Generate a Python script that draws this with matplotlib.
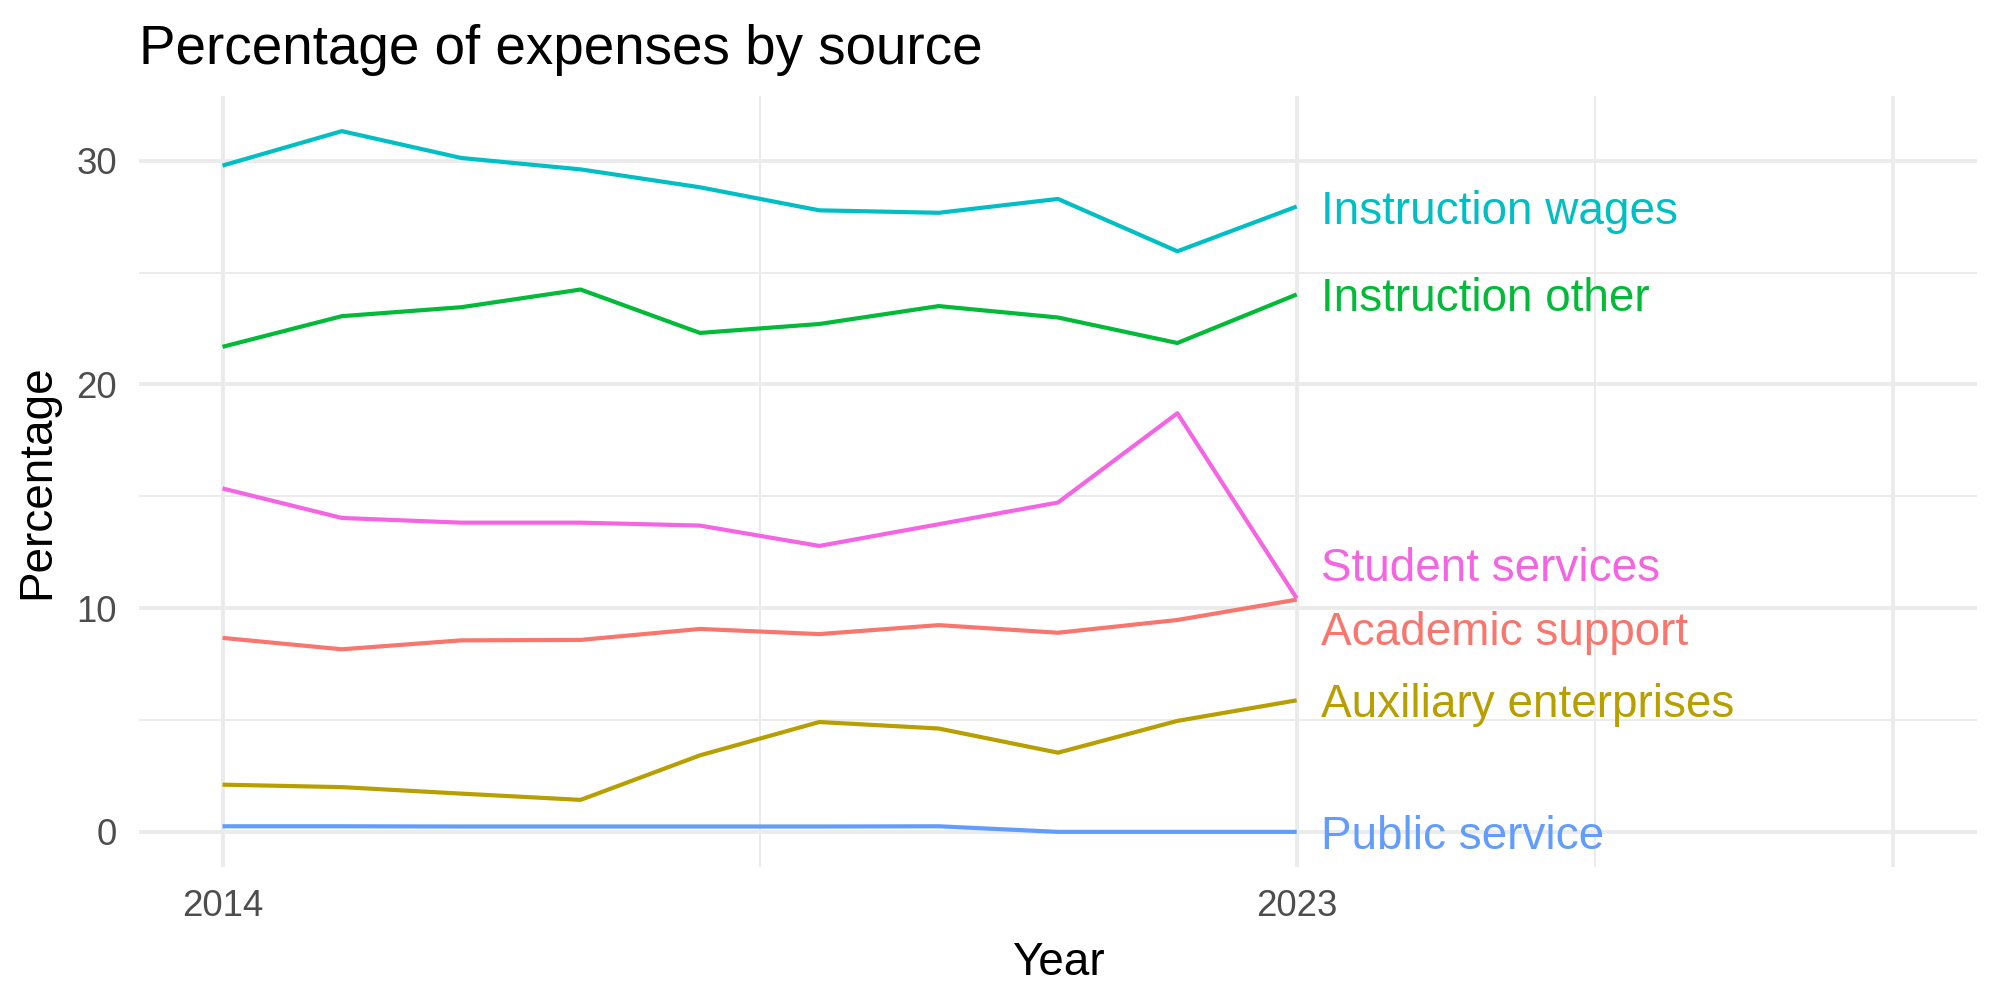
import numpy as np
import matplotlib
matplotlib.use('Agg')
import matplotlib.pyplot as plt

plt.rcParams['font.family'] = ['Liberation Sans', 'DejaVu Sans']

years = [2014, 2015, 2016, 2017, 2018, 2019, 2020, 2021, 2022, 2023]

sources = [
    'Academic support',
    'Auxiliary enterprises',
    'Instruction other',
    'Instruction wages',
    'Public service',
    'Student services',
]

academic_support = [8.67, 8.16, 8.56, 8.58, 9.07, 8.84, 9.24, 8.90, 9.47, 10.38]
auxiliary_enterprises = [2.11, 2.00, 1.71, 1.43, 3.42, 4.91, 4.62, 3.54, 4.96, 5.88]
instruction_other = [21.68, 23.05, 23.45, 24.24, 22.30, 22.70, 23.50, 22.99, 21.85, 24.02]
instruction_wages = [29.78, 31.32, 30.12, 29.61, 28.81, 27.78, 27.67, 28.29, 25.95, 27.95]
public_service = [0.25, 0.25, 0.24, 0.24, 0.24, 0.24, 0.25, 0.0, 0.0, 0.0]
student_services = [15.35, 14.03, 13.82, 13.82, 13.69, 12.78, 13.75, 14.72, 18.71, 10.44]

series = [academic_support, auxiliary_enterprises, instruction_other,
          instruction_wages, public_service, student_services]

# ggplot default hue palette
colors = ['#F8766D', '#B79F00', '#00BA38', '#00BFC4', '#619CFF', '#F564E3']

# label layout (repel offsets, in data units)
label_dy = [-1.25, 0.0, 0.0, 0.0, 0.0, 1.55]
label_dx = 0.2

fig = plt.figure(figsize=(10, 5), dpi=200)
ax = fig.add_axes([0.0695, 0.133, 0.919, 0.771])

for name, vals, col, dy in zip(sources, series, colors, label_dy):
    ax.plot(years, vals, color=col, linewidth=1.5, solid_capstyle='butt', zorder=3)
    ax.text(years[-1] + label_dx, vals[-1] + dy, name, color=col,
            fontsize=16.5, ha='left', va='center_baseline', zorder=4)

ax.set_xlim(2013.3, 2028.7)
ax.set_ylim(-1.57, 32.89)

ax.set_xticks([2014, 2023, 2028])
ax.set_xticklabels(['2014', '2023', ''])
ax.set_xticks([2018.5, 2025.5], minor=True)
ax.set_yticks([0, 10, 20, 30])
ax.set_yticks([5, 15, 25], minor=True)

ax.grid(which='major', color='#EBEBEB', linewidth=1.4)
ax.grid(which='minor', color='#EBEBEB', linewidth=0.7)
ax.set_axisbelow(True)
for s in ax.spines.values():
    s.set_visible(False)
ax.tick_params(which='both', length=0, pad=8, labelsize=13.2, labelcolor='#4D4D4D')

ax.set_xlabel('Year', fontsize=16.5, labelpad=6)
ax.set_ylabel('Percentage', fontsize=16.5, labelpad=6)

fig.text(0.0695, 0.936, 'Percentage of expenses by source', fontsize=19.7,
         ha='left', va='baseline')

fig.savefig('out.png', dpi=200, facecolor='white')
